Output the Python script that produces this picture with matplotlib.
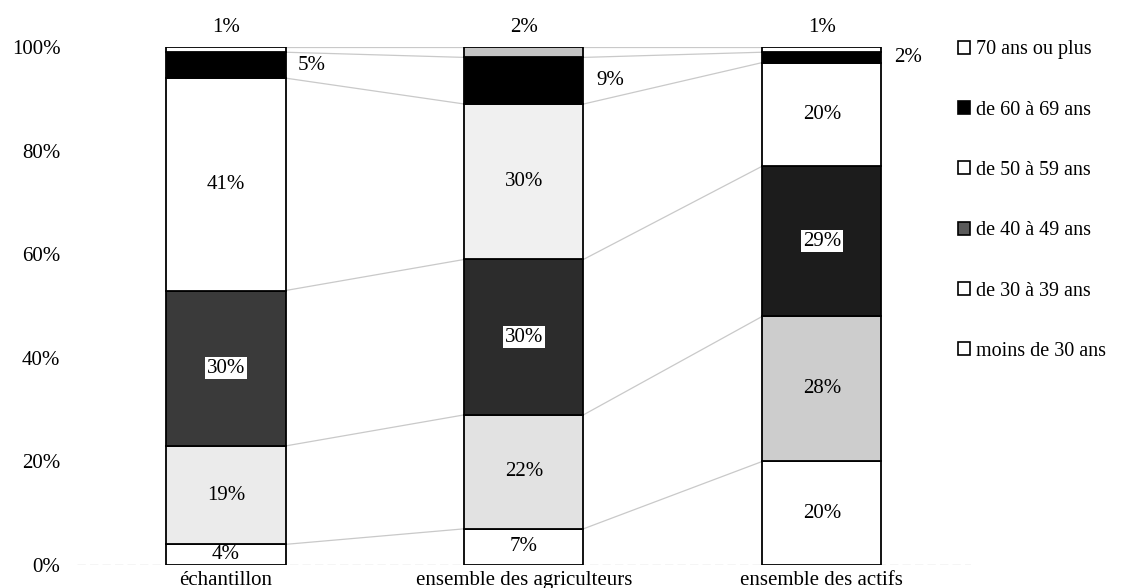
import matplotlib
matplotlib.use("Agg")
import matplotlib.pyplot as plt
from matplotlib.patches import Patch
import numpy as np

plt.rcParams['font.family'] = ['Liberation Serif', 'DejaVu Serif']

categories = ["échantillon", "ensemble des agriculteurs", "ensemble des actifs"]
series_names = ["moins de 30 ans", "de 30 à 39 ans", "de 40 à 49 ans",
                "de 50 à 59 ans", "de 60 à 69 ans", "70 ans ou plus"]
moins_30 = [4, 7, 20]
de_30_39 = [19, 22, 28]
de_40_49 = [30, 30, 29]
de_50_59 = [41, 30, 20]
de_60_69 = [5, 9, 2]
plus_70 = [1, 2, 1]
yticks = [0, 20, 40, 60, 80, 100]

series = [moins_30, de_30_39, de_40_49, de_50_59, de_60_69, plus_70]
bar_colors = [
    ['#ffffff', '#ffffff', '#ffffff'],
    ['#ebebeb', '#e2e2e2', '#cdcdcd'],
    ['#3a3a3a', '#2c2c2c', '#1c1c1c'],
    ['#ffffff', '#f0f0f0', '#ffffff'],
    ['#000000', '#000000', '#000000'],
    ['#ffffff', '#c4c4c4', '#ffffff'],
]
legend_colors = ['#ffffff', '#ffffff', '#5a5a5a', '#ffffff', '#000000', '#ffffff']

fig = plt.figure(figsize=(11.34, 5.88), dpi=100)
ax = fig.add_axes([0.068, 0.039, 0.788, 0.881])

x = np.arange(len(categories))
w = 0.4
fs = 15
bottom = np.zeros(len(categories))
cums = []
for k, vals in enumerate(series):
    vals = np.array(vals, dtype=float)
    ax.bar(x, vals, w, bottom=bottom, color=bar_colors[k], edgecolor='black',
           linewidth=1.3, zorder=3)
    centers = bottom + vals / 2
    for i in range(len(categories)):
        lab = f"{int(vals[i])}%"
        if k == 5:
            ax.annotate(lab, (x[i], bottom[i] + vals[i]), xytext=(0, 14),
                        textcoords='offset points', ha='center', va='center',
                        fontsize=fs, zorder=5)
        elif k == 4:
            ax.annotate(lab, (x[i] + w / 2, centers[i]), xytext=(19, 0),
                        textcoords='offset points', ha='center', va='center',
                        fontsize=fs, zorder=5)
        elif k == 2:
            ax.text(x[i], centers[i], lab, ha='center', va='center', fontsize=fs,
                    zorder=5, bbox=dict(boxstyle='square,pad=0.08', fc='white', ec='none'))
        else:
            ax.text(x[i], centers[i], lab, ha='center', va='center', fontsize=fs, zorder=5)
    bottom = bottom + vals
    cums.append(bottom.copy())

# series lines between bars
for cum in cums:
    for i in range(len(categories) - 1):
        ax.plot([x[i] + w / 2, x[i + 1] - w / 2], [cum[i], cum[i + 1]],
                color='#c9c9c9', lw=0.9, zorder=2)

ax.axhline(0, color='#d0d0d0', lw=1.0, ls=(0, (6, 3)), zorder=1)

ax.set_xlim(-0.5, 2.5)
ax.set_ylim(0, 100)
ax.set_yticks(yticks)
ax.set_yticklabels([f"{t}%" for t in yticks], fontsize=fs)
ax.set_xticks(x)
ax.set_xticklabels(categories, fontsize=fs)
ax.tick_params(axis='both', length=0)
ax.tick_params(axis='y', pad=12)
ax.tick_params(axis='x', pad=4)
for s in ax.spines.values():
    s.set_visible(False)

handles = [Patch(facecolor=legend_colors[k], edgecolor='black', linewidth=1.2,
                 label=series_names[k]) for k in range(len(series_names))][::-1]
fig.legend(handles=handles, loc='upper left', bbox_to_anchor=(0.838, 0.945),
           frameon=False, fontsize=14.5, handlelength=0.6, handleheight=0.6,
           handletextpad=0.3, labelspacing=2.05, borderaxespad=0)

fig.savefig("out.png", dpi=100)
